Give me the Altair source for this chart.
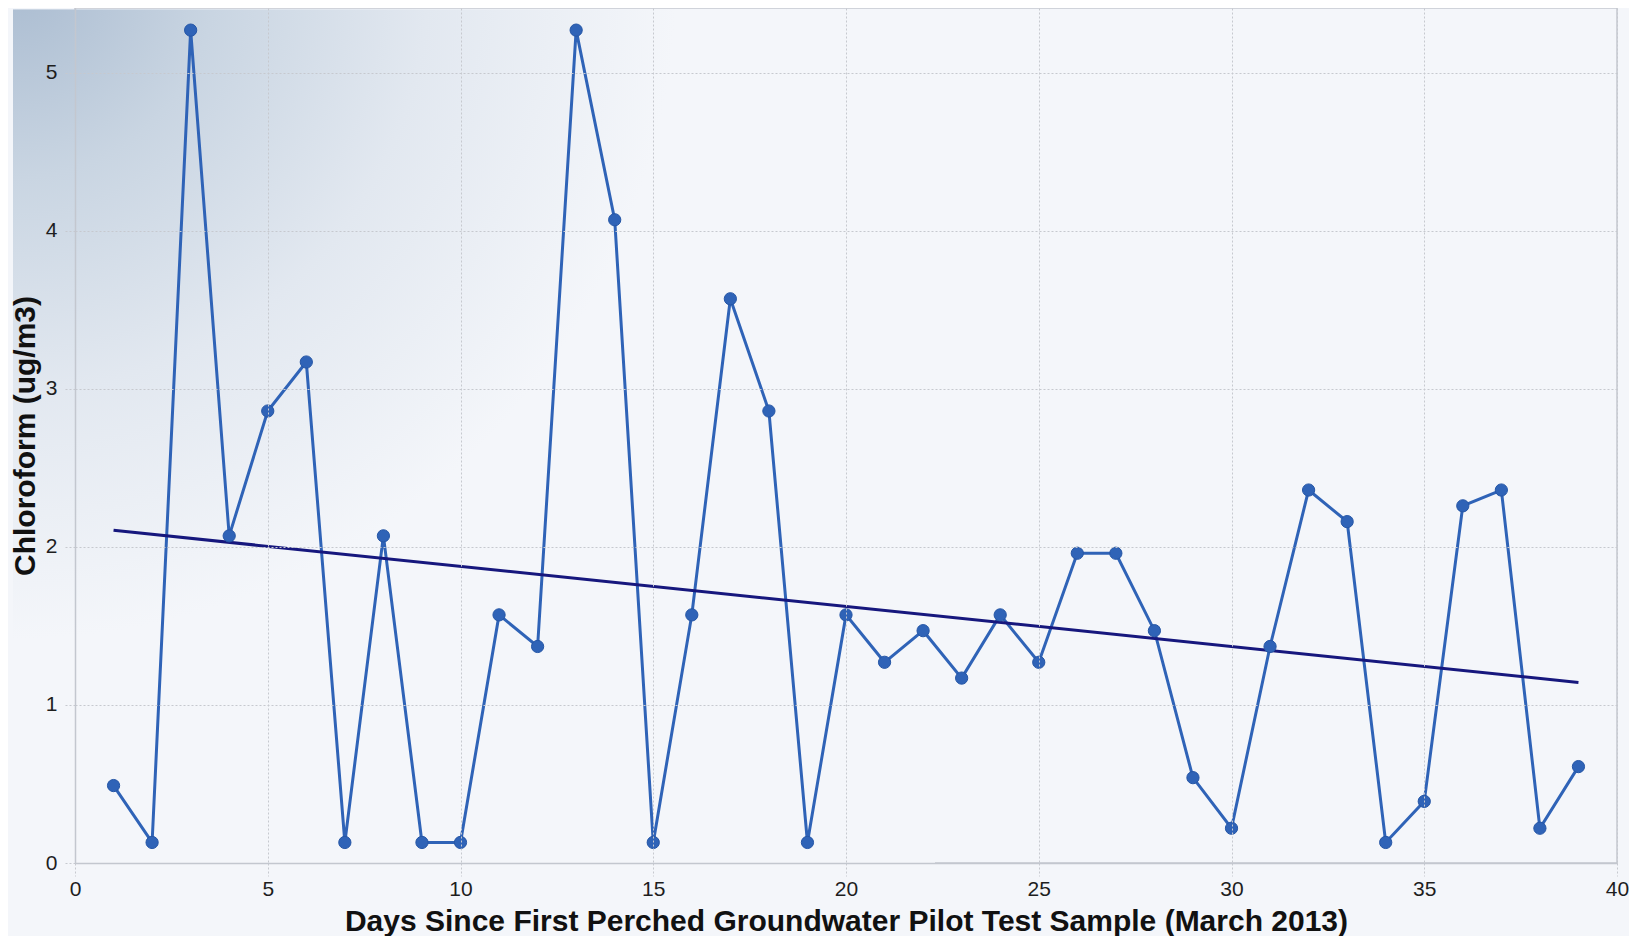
import altair as alt
import pandas as pd

days = list(range(1, 40))
chloroform = [0.49, 0.13, 5.27, 2.07, 2.86, 3.17, 0.13, 2.07, 0.13, 0.13,
              1.57, 1.37, 5.27, 4.07, 0.13, 1.57, 3.57, 2.86, 0.13, 1.57,
              1.27, 1.47, 1.17, 1.57, 1.27, 1.96, 1.96, 1.47, 0.54, 0.22,
              1.37, 2.36, 2.16, 0.13, 0.39, 2.26, 2.36, 0.22, 0.61]

df = pd.DataFrame({"day": days, "value": chloroform})

W, H = 1542, 855
BG = "#f4f6fa"
LINE = "#2f63b7"
LABEL_FONT = "Liberation Sans Narrow, Liberation Sans, Arial, sans-serif"

x_enc = alt.X("day:Q", scale=alt.Scale(domain=[0, 40], nice=False),
              axis=alt.Axis(values=[0, 5, 10, 15, 20, 25, 30, 35, 40], format="d", zindex=1,
                            labelFlush=False,
                            title="Days Since First Perched Groundwater Pilot Test Sample (March 2013)"))
y_enc = alt.Y("value:Q", scale=alt.Scale(domain=[0, 5.41], nice=False, zero=True),
              axis=alt.Axis(values=[0, 1, 2, 3, 4, 5], format="d", zindex=1,
                            labelFlush=False,
                            title="Chloroform (ug/m3)"))

grad = alt.Chart(pd.DataFrame({"a": [0]})).mark_rect(
    color=alt.RadialGradient(
        gradient="radial",
        stops=[alt.GradientStop(color="#a9bbd0", offset=0),
               alt.GradientStop(color="#c9d5e2", offset=0.22),
               alt.GradientStop(color="#e2e8f0", offset=0.45),
               alt.GradientStop(color=BG, offset=0.72),
               alt.GradientStop(color=BG, offset=1)],
        x1=0, y1=0, r1=0, x2=0, y2=0, r2=1),
    strokeWidth=0,
).encode(x=alt.value(-62), x2=alt.value(860), y=alt.value(1.2), y2=alt.value(H))

line = alt.Chart(df).mark_line(color=LINE, strokeWidth=3).encode(x=x_enc, y=y_enc)
pts = alt.Chart(df).mark_point(filled=True, color=LINE, size=150, opacity=1,
                               stroke="#2556a6", strokeWidth=1).encode(x="day:Q", y="value:Q")
trend = alt.Chart(df).transform_regression("day", "value", method="linear").mark_line(
    color="#16177d", strokeWidth=3).encode(x="day:Q", y="value:Q")

chart = alt.layer(grad, line, trend, pts).properties(
    width=W, height=H, background=BG, padding={"left": 2, "top": 0, "right": 0, "bottom": 0}
).configure_view(
    fill=BG, stroke="#c3c7cf", strokeWidth=1.5
).configure_axis(
    grid=True, gridColor="#c6c9cf", gridDash=[2, 2], gridWidth=1,
    domainColor="#c3c7cf", domainWidth=1.5,
    tickColor="#c6c9cf", tickDash=[2, 2], tickWidth=1,
    labelFont=LABEL_FONT, labelFontSize=21, labelColor="#1e1e1e",
    titleFont="Liberation Sans", titleFontSize=30, titleFontWeight="bold", titleColor="#111111",
).configure_axisX(
    tickSize=13, labelPadding=2, titlePadding=7,
).configure_axisY(
    tickSize=11, labelPadding=7, titlePadding=5,
)

chart.save("out.html", embed_options={"renderer": "svg", "actions": False})
